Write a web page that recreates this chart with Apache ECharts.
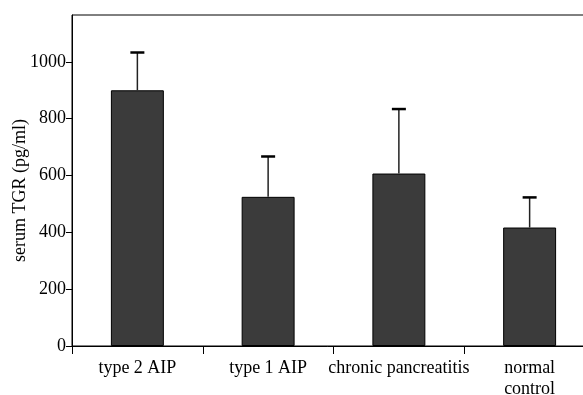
<!DOCTYPE html>
<html>
<head>
<meta charset="utf-8">
<script src="https://cdn.jsdelivr.net/npm/echarts@6/dist/echarts.min.js"></script>
<style>
  html, body { margin: 0; padding: 0; background: #fff; }
  #chart { width: 583px; height: 395px; }
</style>
</head>
<body>
<div id="chart"></div>
<script>
(function () {
  "use strict";
  const chart = echarts.init(document.getElementById("chart"));

  const categories = ["type 2 AIP", "type 1 AIP", "chronic pancreatitis", "normal\ncontrol"];
  const means = [900, 525, 607, 417];
  const upper = [1033, 667, 834, 523];
  const yTicks = [0, 200, 400, 600, 800, 1000];

  const font = "Liberation Serif";

  chart.setOption({
    animation: false,
    // plot runs past the right edge of the picture
    grid: {
      left: 72, width: 523, top: 15, height: 331,
      outerBoundsMode: "none", containLabel: false,
      show: true, borderColor: "#000", borderWidth: 1,
    },
    xAxis: {
      type: "category",
      data: categories,
      axisLine: { lineStyle: { color: "#000", width: 1 } },
      axisTick: { show: true, length: 8, lineStyle: { color: "#000" } },
      axisLabel: { color: "#000", fontFamily: font, fontSize: 18, margin: 12, lineHeight: 21, interval: 0 },
    },
    yAxis: {
      type: "value",
      min: 0,
      max: 1165,
      interval: 200,
      name: "serum TGR (pg/ml)",
      nameLocation: "middle",
      nameGap: 43,
      nameMoveOverlap: false,
      // padding nudges the rotated title a little lower, as in the original
      nameTextStyle: { color: "#000", fontFamily: font, fontSize: 18, padding: [0, 20, 0, 0] },
      splitLine: { show: false },
      axisLine: { show: true, lineStyle: { color: "#000", width: 1 } },
      axisTick: { show: true, length: 6, customValues: yTicks, lineStyle: { color: "#000" } },
      axisLabel: { color: "#000", fontFamily: font, fontSize: 18, margin: 6, customValues: yTicks, formatter: v => String(v) },
    },
    series: [
      {
        type: "bar",
        data: means,
        barWidth: "40.5%",
        itemStyle: { color: "#3b3b3b", borderColor: "#000", borderWidth: 1 },
        z: 2,
      },
      {
        type: "custom",
        data: means.map((m, i) => [i, m, upper[i]]),
        z: 3,
        renderItem: (params, api) => {
          const base = api.coord([api.value(0), api.value(1)]);
          const top = api.coord([api.value(0), api.value(2)]);
          return {
            type: "group",
            children: [
              { type: "line", shape: { x1: base[0], y1: base[1], x2: top[0], y2: top[1] }, style: { stroke: "#222", lineWidth: 1.5 } },
              { type: "line", shape: { x1: top[0] - 7, y1: top[1], x2: top[0] + 7, y2: top[1] }, style: { stroke: "#000", lineWidth: 2.5 } },
            ],
          };
        },
      },
    ],
  });
})();
</script>
</body>
</html>
